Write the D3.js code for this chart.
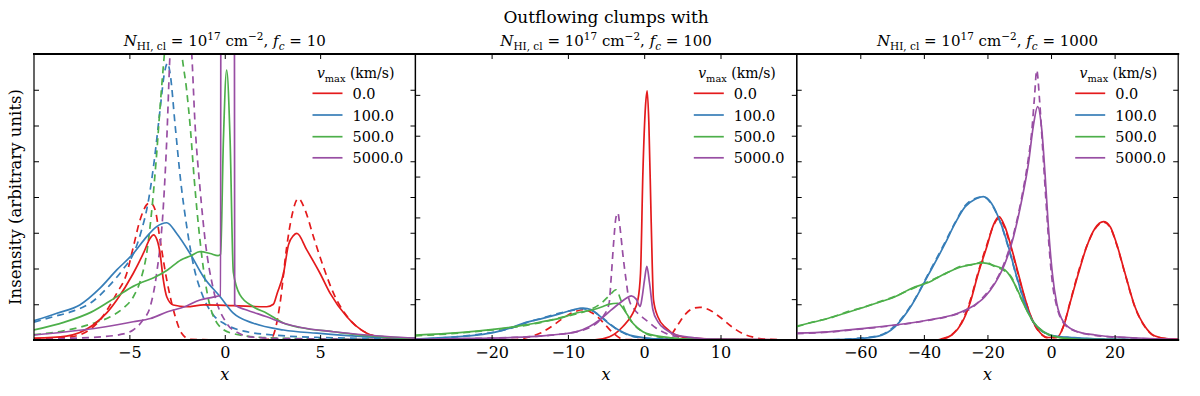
<!DOCTYPE html>
<html>
<head>
<meta charset="utf-8">
<script src="https://cdn.jsdelivr.net/npm/d3@7"></script>
<style>
  body { margin: 0; background: #fff; }
  svg { display: block; }
  text { font-family: "DejaVu Serif", serif; fill: #000; }
</style>
</head>
<body>
<div id="chart"></div>
<script>
// legend labels and colours (v_max in km/s)
const vmaxLabels = ["0.0", "100.0", "500.0", "5000.0"];
const colors = ["#e41a1c", "#377eb8", "#4daf4a", "#984ea3"];

// per panel settings
const fcValues = ["10", "100", "1000"];
const xDomains = [[-10, 10], [-30, 20], [-80, 40]];
const yMaxes = [8, 7, 8];
const xTickValues = [[-5, 0, 5], [-20, -10, 0, 10], [-60, -40, -20, 0, 20]];

// ---- panel 1, f_c = 10 : [x, intensity] ----
const p1RedSolid = [[-10,0.05],[-8.3,0.11],[-6.9,0.42],[-6.2,0.75],[-5.66,1.12],[-4.8,1.86],[-4.27,2.42],[-3.9,2.85],[-3.74,2.94],[-3.55,2.8],[-3.39,2.42],[-3.22,1.68],[-3.04,1.21],[-2.7,0.98],[-2.0,0.93],[-1.1,0.98],[0.45,0.96],[2.2,0.93],[2.55,1.0],[2.75,1.31],[3.08,1.86],[3.34,2.66],[3.6,2.92],[3.78,2.98],[4.3,2.52],[5.0,1.86],[5.52,1.31],[6.4,0.65],[7.45,0.19],[8.3,0.07],[10,0.02]];
const p1RedDashed = [[-10,0.02],[-8.3,0.07],[-7.4,0.19],[-6.54,0.56],[-5.66,1.31],[-5.14,1.86],[-4.79,2.61],[-4.44,3.36],[-4.1,3.78],[-3.92,3.85],[-3.65,3.64],[-3.39,2.8],[-3.04,1.68],[-2.69,0.84],[-2.26,0.19],[-1.82,0.02],[0.45,0],[2.38,0.02],[2.64,0.28],[2.9,1.03],[3.25,2.61],[3.51,3.45],[3.86,3.96],[4.21,3.64],[4.65,2.89],[5.17,2.05],[5.7,1.31],[6.57,0.56],[7.45,0.19],[8.3,0.07],[10,0.02]];
const p1BlueSolid = [[-10,0.54],[-8.8,0.75],[-7.6,0.98],[-6.54,1.45],[-5.66,1.96],[-4.79,2.42],[-4.09,2.89],[-3.57,3.17],[-3.04,3.28],[-2.52,2.98],[-1.82,2.42],[-1.12,1.77],[-0.24,1.21],[0.45,0.75],[1.5,0.47],[3.08,0.28],[4.83,0.19],[7.45,0.09],[10,0.05]];
const p1BlueDashed = [[-10,0.5],[-9,0.65],[-8,0.8],[-7,1.05],[-6,1.55],[-5.3,2.0],[-4.8,2.4],[-4.4,3.0],[-4.0,3.9],[-3.7,5.0],[-3.4,6.4],[-3.15,7.5],[-3.0,7.75],[-2.85,7.4],[-2.6,6.0],[-2.3,4.4],[-2.0,3.2],[-1.6,2.0],[-1.2,1.3],[-0.6,0.7],[0,0.45],[1,0.25],[3,0.12],[5,0.07],[10,0.03]];
const p1GreenSolid = [[-10,0.28],[-8.4,0.5],[-7,0.78],[-5.7,1.2],[-4.8,1.5],[-4.3,1.62],[-3.7,1.75],[-3.0,1.96],[-2.3,2.24],[-1.8,2.35],[-1.3,2.47],[-0.77,2.42],[-0.35,2.36],[-0.22,2.4],[-0.07,5.6],[0.1,7.55],[0.28,5.6],[0.45,1.9],[0.8,1.26],[1.5,0.93],[2.2,0.75],[3.1,0.47],[3.95,0.35],[5.7,0.23],[7.5,0.12],[10,0.04]];
const p1GreenDashed = [[-10,0.15],[-8.5,0.25],[-7,0.45],[-6,0.65],[-5.3,0.9],[-4.8,1.2],[-4.4,1.7],[-4.1,2.4],[-3.85,3.5],[-3.6,5.0],[-3.35,6.8],[-3.13,8.2],[-2.9,9.4],[-2.7,9.8],[-2.5,9.5],[-2.25,8.0],[-2.0,7.0],[-1.8,5.9],[-1.6,4.5],[-1.3,2.8],[-0.95,1.4],[-0.4,0.47],[0.3,0.2],[2,0.07],[5,0.03],[10,0.01]];
const p1PurpleSolid = [[-10,0.14],[-8.3,0.23],[-6.5,0.35],[-4.8,0.51],[-3.9,0.6],[-3.0,0.79],[-2.1,0.93],[-1.3,1.12],[-0.6,1.2],[-0.22,1.25],[-0.19,20],[0.49,20],[0.52,0.98],[1.15,0.84],[2.2,0.65],[3.1,0.47],[4.0,0.35],[5.7,0.23],[7.45,0.14],[10,0.05]];
const p1PurpleDashed = [[-10,0.02],[-8,0.05],[-6.5,0.09],[-5.5,0.15],[-4.8,0.28],[-4.3,0.55],[-3.9,0.95],[-3.57,1.86],[-3.22,3.73],[-3.04,5.6],[-2.87,8.0],[-2.6,9.6],[-2.3,10],[-2.0,9.3],[-1.73,8.0],[-1.56,6.06],[-1.29,4.2],[-1.03,2.8],[-0.59,1.4],[0.1,0.47],[0.7,0.2],[1.33,0.09],[3,0.04],[10,0.01]];

// ---- panel 2, f_c = 100 ----
const p2RedSolid = [[-30,0],[-6.7,0],[-4.54,0.08],[-2.79,0.33],[-1.48,0.66],[-0.83,0.98],[-0.48,1.64],[-0.17,4.1],[0.17,5.73],[0.39,6.1],[0.61,5.32],[0.92,2.87],[1.22,0.98],[1.79,0.57],[2.88,0.29],[4.19,0.12],[6.38,0.04],[20,0]];
const p2RedDashed = [[-30,0],[-17,0.01],[-15,0.08],[-13.5,0.18],[-12,0.35],[-10.5,0.55],[-9,0.7],[-8,0.74],[-7,0.68],[-6,0.55],[-5,0.35],[-4,0.16],[-3.2,0.05],[-2.5,0.01],[2.5,0.01],[3.5,0.12],[4.5,0.4],[5.5,0.65],[6.5,0.78],[7.3,0.8],[8.5,0.74],[10,0.55],[11.5,0.32],[13,0.15],[14.5,0.06],[16,0.02],[20,0]];
const p2BlueSolid = [[-30,0.02],[-26.4,0.06],[-22,0.12],[-19.8,0.18],[-17.6,0.29],[-15.5,0.43],[-13.3,0.53],[-11.1,0.64],[-9.3,0.74],[-8,0.78],[-6.9,0.74],[-5.85,0.59],[-4.54,0.39],[-3.23,0.23],[-1.92,0.12],[-0.17,0.06],[2.45,0.02],[20,0]];
const p2BlueDashed = [[-30,0.02],[-26.4,0.05],[-22,0.13],[-19.8,0.19],[-17.6,0.28],[-15.5,0.42],[-13.3,0.54],[-11.1,0.66],[-9.3,0.73],[-8.2,0.77],[-6.9,0.72],[-5.85,0.6],[-4.54,0.4],[-3.23,0.22],[-1.92,0.11],[-0.17,0.05],[2.45,0.02],[20,0]];
const p2GreenSolid = [[-30,0.12],[-24.2,0.18],[-19.8,0.26],[-15.5,0.37],[-13.3,0.45],[-11.1,0.53],[-8.9,0.66],[-6.7,0.74],[-5.4,0.82],[-4.54,0.88],[-3.45,0.9],[-2.36,0.66],[-1.48,0.41],[-0.17,0.2],[1.14,0.12],[3.3,0.06],[5.5,0.02],[20,0]];
const p2GreenDashed = [[-30,0.1],[-24.2,0.17],[-19.8,0.25],[-15.5,0.36],[-13.3,0.44],[-11.1,0.54],[-8.9,0.64],[-7,0.75],[-5.5,0.92],[-4.5,1.1],[-3.7,1.23],[-3.0,0.95],[-2.2,0.6],[-1.2,0.35],[0,0.18],[2,0.07],[4,0.03],[20,0]];
const p2PurpleSolid = [[-30,0.02],[-22,0.04],[-17.6,0.06],[-13.3,0.1],[-11.1,0.14],[-8.9,0.2],[-7.16,0.33],[-5.85,0.49],[-4.54,0.7],[-3.23,0.9],[-2.36,1.02],[-1.7,1.08],[-1.05,1.0],[-0.52,0.82],[-0.26,1.06],[0.04,1.47],[0.35,1.8],[0.7,1.39],[1.14,0.74],[1.79,0.45],[2.88,0.25],[4.2,0.12],[6.4,0.06],[8.6,0.02],[20,0]];
const p2PurpleDashed = [[-30,0.02],[-22,0.04],[-17.6,0.06],[-13.3,0.1],[-11,0.14],[-9,0.2],[-7.2,0.3],[-6,0.45],[-5.3,0.6],[-4.6,0.9],[-4.3,1.6],[-4.0,2.4],[-3.7,3.0],[-3.45,3.11],[-3.2,2.8],[-2.8,2.1],[-2.4,1.5],[-2.0,1.0],[-1.3,0.75],[-0.5,0.6],[0.5,0.45],[1.5,0.3],[3,0.15],[5,0.06],[8,0.02],[20,0]];

// ---- panel 3, f_c = 1000 ----
const p3RedSolid = [[-80,0],[-36,0],[-34.4,0.03],[-31.2,0.14],[-28.1,0.47],[-25.5,1.03],[-22.9,1.86],[-20.2,2.61],[-18.1,3.22],[-16.4,3.45],[-14.5,3.17],[-12.4,2.56],[-10.3,1.86],[-8.2,1.17],[-6.1,0.61],[-3.5,0.21],[-0.84,0.07],[1.78,0.07],[3.88,0.37],[5.97,1.03],[8.6,1.86],[11.2,2.61],[13.8,3.12],[16.5,3.31],[18.6,3.17],[20.6,2.7],[23.3,1.86],[26.4,0.93],[29.6,0.37],[32.7,0.11],[36.9,0.03],[40,0.02]];
const p3RedDashed = [[-80,0],[-36,0],[-34.4,0.02],[-31.2,0.15],[-28.1,0.5],[-25.5,1.08],[-22.9,1.9],[-20.2,2.66],[-18.1,3.2],[-16.4,3.4],[-14.5,3.12],[-12.4,2.52],[-10.3,1.82],[-8.2,1.15],[-6.1,0.6],[-3.5,0.2],[-0.84,0.06],[1.78,0.07],[3.88,0.38],[5.97,1.05],[8.6,1.9],[11.2,2.62],[13.8,3.1],[16.5,3.3],[18.6,3.15],[20.6,2.68],[23.3,1.84],[26.4,0.92],[29.6,0.36],[32.7,0.1],[36.9,0.03],[40,0.02]];
const p3BlueSolid = [[-80,0],[-66.9,0.01],[-61.6,0.03],[-54.3,0.11],[-49.1,0.37],[-43.8,0.98],[-38.6,1.82],[-33.3,2.7],[-30.2,3.26],[-27,3.73],[-23.9,3.94],[-21.3,4.01],[-18.7,3.82],[-16,3.31],[-13.4,2.61],[-10.8,1.77],[-8.2,1.03],[-5.6,0.51],[-2.4,0.23],[1.26,0.11],[6.5,0.07],[13.8,0.03],[40,0]];
const p3BlueDashed = [[-80,0],[-66.9,0.01],[-61.6,0.04],[-54.3,0.12],[-49.1,0.4],[-43.8,1.0],[-38.6,1.85],[-33.3,2.74],[-30.2,3.28],[-27,3.76],[-23.9,3.96],[-21.3,4.0],[-18.7,3.8],[-16,3.3],[-13.4,2.58],[-10.8,1.75],[-8.2,1.02],[-5.6,0.5],[-2.4,0.22],[1.26,0.1],[6.5,0.06],[13.8,0.03],[40,0]];
const p3GreenSolid = [[-80,0.39],[-74.2,0.51],[-70,0.61],[-64.8,0.75],[-59.5,0.9],[-54.3,1.05],[-49.1,1.21],[-43.8,1.45],[-38.6,1.61],[-33.3,1.86],[-28.1,2.05],[-23.9,2.13],[-21.3,2.16],[-17.6,2.07],[-14.5,1.96],[-12.4,1.72],[-10.3,1.35],[-8.2,0.93],[-5.6,0.51],[-2.4,0.23],[0.73,0.11],[4.4,0.05],[8.6,0.02],[40,0]];
const p3GreenDashed = [[-80,0.37],[-74.2,0.52],[-70,0.6],[-64.8,0.77],[-59.5,0.9],[-54.3,1.06],[-49.1,1.22],[-43.8,1.43],[-38.6,1.63],[-33.3,1.85],[-28.1,2.07],[-23.9,2.12],[-21.3,2.2],[-17.6,2.05],[-14.5,1.93],[-12.4,1.75],[-10.3,1.33],[-8.2,0.94],[-5.6,0.5],[-2.4,0.22],[0.73,0.1],[4.4,0.05],[8.6,0.02],[40,0]];
const p3PurpleSolid = [[-80,0.19],[-70,0.23],[-59.5,0.32],[-49.1,0.42],[-38.6,0.56],[-30.2,0.72],[-24.9,0.93],[-20.8,1.21],[-17.6,1.59],[-14.5,2.14],[-11.8,2.89],[-9.2,3.92],[-7.1,4.94],[-5.6,5.97],[-4.2,6.53],[-2.9,5.87],[-1.9,4.66],[-0.84,3.17],[0.42,1.86],[1.78,1.03],[3.88,0.51],[7.5,0.26],[13.8,0.14],[24.3,0.07],[40,0.02]];
const p3PurpleDashed = [[-80,0.18],[-70,0.22],[-59.5,0.31],[-49.1,0.41],[-38.6,0.55],[-30.2,0.71],[-24.9,0.9],[-20.8,1.25],[-17.6,1.62],[-14.5,2.2],[-11.8,2.95],[-9.2,4.0],[-7.1,5.1],[-6.1,5.8],[-5.2,6.8],[-4.5,7.55],[-3.6,6.7],[-2.6,5.3],[-1.6,3.9],[-0.6,2.6],[0.42,1.6],[1.78,0.95],[3.88,0.48],[7.5,0.25],[13.8,0.13],[24.3,0.06],[40,0.02]];

const solidSeries = [
  [p1RedSolid, p1BlueSolid, p1GreenSolid, p1PurpleSolid],
  [p2RedSolid, p2BlueSolid, p2GreenSolid, p2PurpleSolid],
  [p3RedSolid, p3BlueSolid, p3GreenSolid, p3PurpleSolid]
];
const dashedSeries = [
  [p1RedDashed, p1BlueDashed, p1GreenDashed, p1PurpleDashed],
  [p2RedDashed, p2BlueDashed, p2GreenDashed, p2PurpleDashed],
  [p3RedDashed, p3BlueDashed, p3GreenDashed, p3PurpleDashed]
];

// layout
const chartWidth = 1200, chartHeight = 396;
const panelLeft = [34, 415.3, 796.7];
const panelWidth = 381.5;
const plotTop = 54, plotBottom = 340;
const panelHeight = plotBottom - plotTop;

const svg = d3.select("#chart").append("svg")
  .attr("width", chartWidth)
  .attr("height", chartHeight);

// write a little mathtext-like label out of pieces
const mathText = (sel, parts, size) => {
  let shift = 0;
  parts.forEach(p => {
    const target = p.sub ? 4 : p.sup ? -6 : 0;
    sel.append("tspan")
      .attr("dy", target - shift)
      .style("font-size", (p.sub || p.sup) ? (size * 0.7) + "px" : size + "px")
      .style("font-style", p.it ? "italic" : "normal")
      .text(p.t);
    shift = target;
  });
};

const titleParts = fc => [
  {t: "N", it: true}, {t: "HI, cl", sub: true}, {t: " = 10"}, {t: "17", sup: true},
  {t: " cm"}, {t: "\u22122", sup: true}, {t: ", "}, {t: "f", it: true},
  {t: "c", sub: true, it: true}, {t: " = " + fc}
];

// main title over the middle panel
svg.append("text")
  .attr("x", panelLeft[1] + panelWidth / 2)
  .attr("y", 23)
  .attr("text-anchor", "middle")
  .style("font-size", "17px")
  .text("Outflowing clumps with");

// y label
svg.append("text")
  .attr("transform", "translate(21," + (plotTop + panelHeight / 2) + ") rotate(-90)")
  .attr("text-anchor", "middle")
  .style("font-size", "16.5px")
  .text("Insensity (arbitrary units)");

const line = (x, y) => d3.line()
  .x(d => x(d[0]))
  .y(d => y(d[1]))
  .curve(d3.curveMonotoneX);

fcValues.forEach((fc, i) => {
  const g = svg.append("g")
    .attr("transform", "translate(" + panelLeft[i] + "," + plotTop + ")");

  const x = d3.scaleLinear().domain(xDomains[i]).range([0, panelWidth]);
  const y = d3.scaleLinear().domain([0, yMaxes[i]]).range([panelHeight, 0]);
  const yTicks = d3.range(1, yMaxes[i]);

  g.append("clipPath").attr("id", "clip" + i)
    .append("rect").attr("width", panelWidth).attr("height", panelHeight);

  const plot = g.append("g").attr("clip-path", "url(#clip" + i + ")");

  // dashed first, solid on top
  dashedSeries[i].forEach((s, k) => {
    plot.append("path")
      .attr("d", line(x, y)(s))
      .attr("fill", "none")
      .attr("stroke", colors[k])
      .attr("stroke-width", 1.7)
      .attr("stroke-dasharray", "7,5");
  });
  solidSeries[i].forEach((s, k) => {
    plot.append("path")
      .attr("d", line(x, y)(s))
      .attr("fill", "none")
      .attr("stroke", colors[k])
      .attr("stroke-width", 1.7);
  });

  // axes with inward ticks on all four sides
  const bottomAxis = g.append("g")
    .attr("transform", "translate(0," + panelHeight + ")")
    .call(d3.axisBottom(x).tickValues(xTickValues[i]).tickSize(-5).tickPadding(7));
  bottomAxis.selectAll("text").style("font-size", "16px").style("font-family", "DejaVu Serif");
  g.append("g")
    .call(d3.axisTop(x).tickValues(xTickValues[i]).tickSize(-5).tickFormat(""));
  g.append("g")
    .call(d3.axisLeft(y).tickValues(yTicks).tickSize(-5).tickFormat(""));
  g.append("g")
    .attr("transform", "translate(" + panelWidth + ",0)")
    .call(d3.axisRight(y).tickValues(yTicks).tickSize(-5).tickFormat(""));
  g.selectAll(".domain").remove();
  g.selectAll(".tick line").attr("stroke", "#000").attr("stroke-width", 1);

  // frame: thin sides, heavier top and bottom
  g.append("rect")
    .attr("width", panelWidth).attr("height", panelHeight)
    .attr("fill", "none").attr("stroke", "#000").attr("stroke-width", 1.2);
  [0, panelHeight].forEach(yy => {
    g.append("line")
      .attr("x1", -1).attr("x2", panelWidth + 1)
      .attr("y1", yy).attr("y2", yy)
      .attr("stroke", "#000").attr("stroke-width", 2.2);
  });

  // panel title
  const title = g.append("text")
    .attr("x", panelWidth / 2)
    .attr("y", 46 - plotTop)
    .attr("text-anchor", "middle");
  mathText(title, titleParts(fc), 15);

  // x label
  g.append("text")
    .attr("x", panelWidth / 2)
    .attr("y", 380 - plotTop)
    .attr("text-anchor", "middle")
    .style("font-size", "16px")
    .style("font-style", "italic")
    .text("x");

  // legend
  const R = panelWidth;
  const legendTitle = g.append("text")
    .attr("x", R - 21)
    .attr("y", 78 - plotTop)
    .attr("text-anchor", "end");
  mathText(legendTitle, [{t: "v", it: true}, {t: "max", sub: true}, {t: " (km/s)"}], 14);

  const rows = [93.3, 115, 136.7, 157.8];
  vmaxLabels.forEach((lab, k) => {
    const yy = rows[k] - plotTop;
    g.append("line")
      .attr("x1", R - 103).attr("x2", R - 73)
      .attr("y1", yy).attr("y2", yy)
      .attr("stroke", colors[k]).attr("stroke-width", 1.7);
    g.append("text")
      .attr("x", R - 63)
      .attr("y", yy + 5.5)
      .style("font-size", "14.5px")
      .text(lab);
  });
});
</script>
</body>
</html>
